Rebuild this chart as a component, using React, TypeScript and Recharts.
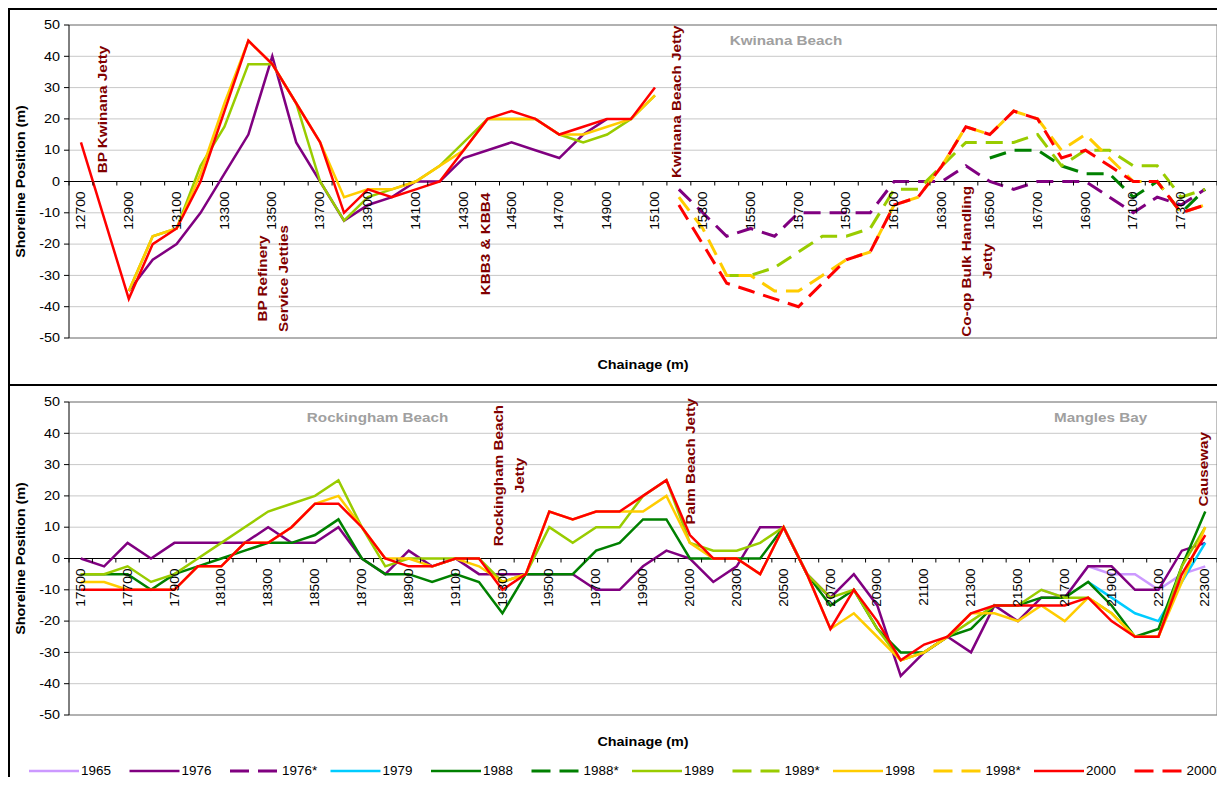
import React from "react";
import {
  LineChart,
  Line,
  XAxis,
  YAxis,
  CartesianGrid,
  ReferenceLine,
  ReferenceDot,
} from "recharts";

// ---- chainage (m) of each surveyed profile ----
const kwinanaChainage = [
  12700, 12800, 12900, 13000, 13100, 13200, 13300, 13400, 13500, 13600, 13700, 13800,
  13900, 14000, 14100, 14200, 14300, 14400, 14500, 14600, 14700, 14800, 14900, 15000,
  15100, 15200, 15300, 15400, 15500, 15600, 15700, 15800, 15900, 16000, 16100, 16200,
  16300, 16400, 16500, 16600, 16700, 16800, 16900, 17000, 17100, 17200, 17300, 17400,
];
const rockinghamChainage = [
  17500, 17600, 17700, 17800, 17900, 18000, 18100, 18200, 18300, 18400, 18500, 18600,
  18700, 18800, 18900, 19000, 19100, 19200, 19300, 19400, 19500, 19600, 19700, 19800,
  19900, 20000, 20100, 20200, 20300, 20400, 20500, 20600, 20700, 20800, 20900, 21000,
  21100, 21200, 21300, 21400, 21500, 21600, 21700, 21800, 21900, 22000, 22100, 22200,
  22300,
];

const kwinanaTickLabels = [
  12700, 12900, 13100, 13300, 13500, 13700, 13900, 14100, 14300, 14500, 14700, 14900,
  15100, 15300, 15500, 15700, 15900, 16100, 16300, 16500, 16700, 16900, 17100, 17300,
];
const rockinghamTickLabels = [
  17500, 17700, 17900, 18100, 18300, 18500, 18700, 18900, 19100, 19300, 19500, 19700,
  19900, 20100, 20300, 20500, 20700, 20900, 21100, 21300, 21500, 21700, 21900, 22100,
  22300,
];

const positionTicks = [-50, -40, -30, -20, -10, 0, 10, 20, 30, 40, 50];

// ---- shoreline position (m); each series starts at its first surveyed chainage ----
type Survey = { from: number; values: number[] };

const kwinana1976: Survey = {
  from: 12900,
  values: [-35, -25, -20, -10, 2.5, 15, 40, 12.5, 0, -12.5, -7.5, -5, 0, 0, 7.5, 10, 12.5, 10, 7.5, 15, 20],
};
const kwinana1989: Survey = {
  from: 12900,
  values: [-35, -17.5, -15, 5, 17.5, 37.5, 37.5, 25, 0, -12.5, -5, -2.5, 0, 5, 12.5, 20, 20, 20, 15, 12.5, 15, 20, 27.5],
};
const kwinana1998: Survey = {
  from: 12900,
  values: [-35, -17.5, -15, 2.5, 25, 45, 37.5, 25, 12.5, -5, -2.5, -2.5, 0, 5, 10, 20, 20, 20, 15, 15, 17.5, 20, 27.5],
};
const kwinana2000: Survey = {
  from: 12700,
  values: [12.5, -12.5, -37.5, -20, -15, 0, 22.5, 45, 37.5, 25, 12.5, -10, -2.5, -5, -2.5, 0, 10, 20, 22.5, 20, 15, 17.5, 20, 20, 30],
};
const kwinana1976b: Survey = {
  from: 15200,
  values: [-2.5, -10, -17.5, -15, -17.5, -10, -10, -10, -10, 0, 0, 0, 5, 0, -2.5, 0, 0, 0, -5, -10, -5, -7.5, -2.5],
};
const kwinana1988b: Survey = {
  from: 16500,
  values: [7.5, 10, 10, 5, 2.5, 2.5, -5, 0, -10, -2.5],
};
const kwinana1989b: Survey = {
  from: 15400,
  values: [-30, -30, -27.5, -22.5, -17.5, -17.5, -15, -2.5, -2.5, 5, 12.5, 12.5, 12.5, 15, 5, 10, 10, 5, 5, -5, -2.5],
};
const kwinana1998b: Survey = {
  from: 15200,
  values: [-5, -15, -30, -30, -35, -35, -30, -25, -22.5, -7.5, -5, 5, 17.5, 15, 22.5, 20, 10, 15, 7.5, 0, 0, -10, -7.5],
};
const kwinana2000b: Survey = {
  from: 15200,
  values: [-7.5, -20, -32.5, -35, -37.5, -40, -32.5, -25, -22.5, -7.5, -5, 5, 17.5, 15, 22.5, 20, 7.5, 10, 5, 0, 0, -10, -7.5],
};

const rockingham1965: Survey = {
  from: 21600,
  values: [-10, -12.5, -2.5, -5, -5, -10, -5, -2.5],
};
const rockingham1976: Survey = {
  from: 17500,
  values: [
    0, -2.5, 5, 0, 5, 5, 5, 5, 10, 5, 5, 10, 0, -5, 2.5, -2.5, 0, -5, -5, -5, -5, -5, -10, -10,
    -2.5, 2.5, 0, -7.5, -2.5, 10, 10, -5, -12.5, -5, -15, -37.5, -30, -25, -30, -15, -20, -12.5,
    -12.5, -2.5, -2.5, -10, -10, 2.5, 5,
  ],
};
const rockingham1979: Survey = {
  from: 21800,
  values: [-7.5, -12.5, -17.5, -20, -7.5, 5],
};
const rockingham1988: Survey = {
  from: 17500,
  values: [
    -5, -5, -5, -10, -5, -2.5, 0, 2.5, 5, 5, 7.5, 12.5, 0, -5, -5, -7.5, -5, -7.5, -17.5, -5, -5,
    -5, 2.5, 5, 12.5, 12.5, 0, 0, 0, 0, 10, -5, -15, -10, -22.5, -30, -30, -25, -22.5, -15, -15,
    -12.5, -12.5, -7.5, -15, -25, -22.5, -2.5, 15,
  ],
};
const rockingham1989: Survey = {
  from: 17500,
  values: [
    -5, -5, -2.5, -7.5, -5, 0, 5, 10, 15, 17.5, 20, 25, 10, -2.5, 0, 0, 0, 0, -7.5, -5, 10, 5,
    10, 10, 20, 25, 5, 2.5, 2.5, 5, 10, -5, -12.5, -10, -22.5, -32.5, -30, -25, -20, -15, -15,
    -10, -12.5, -12.5, -17.5, -25, -25, -2.5, 10,
  ],
};
const rockingham1998: Survey = {
  from: 17500,
  values: [
    -7.5, -7.5, -10, -10, -10, -2.5, -2.5, 5, 5, 10, 17.5, 20, 10, 0, 0, -2.5, 0, -2.5, -7.5, -5,
    15, 12.5, 15, 15, 15, 20, 5, 0, 0, -5, 10, -5, -22.5, -17.5, -25, -32.5, -30, -25, -17.5,
    -17.5, -20, -15, -20, -12.5, -17.5, -25, -25, -7.5, 10,
  ],
};
const rockingham2000: Survey = {
  from: 17500,
  values: [
    -10, -10, -10, -10, -10, -2.5, -2.5, 5, 5, 10, 17.5, 17.5, 10, 0, -2.5, -2.5, 0, 0, -10, -5,
    15, 12.5, 15, 15, 20, 25, 7.5, 0, 0, -5, 10, -5, -22.5, -10, -20, -32.5, -27.5, -25, -17.5,
    -15, -15, -15, -15, -12.5, -20, -25, -25, -5, 7.5,
  ],
};

// ---- series styling, in drawing / legend order ----
const SERIES = [
  { key: "y1965", name: "1965", color: "#CC99FF", dashed: false },
  { key: "y1976", name: "1976", color: "#800080", dashed: false },
  { key: "y1976b", name: "1976*", color: "#800080", dashed: true },
  { key: "y1979", name: "1979", color: "#00CCFF", dashed: false },
  { key: "y1988", name: "1988", color: "#008000", dashed: false },
  { key: "y1988b", name: "1988*", color: "#008000", dashed: true },
  { key: "y1989", name: "1989", color: "#99CC00", dashed: false },
  { key: "y1989b", name: "1989*", color: "#99CC00", dashed: true },
  { key: "y1998", name: "1998", color: "#FFCC00", dashed: false },
  { key: "y1998b", name: "1998*", color: "#FFCC00", dashed: true },
  { key: "y2000", name: "2000", color: "#FF0000", dashed: false },
  { key: "y2000b", name: "2000*", color: "#FF0000", dashed: true },
];

const kwinanaSurveys: Record<string, Survey> = {
  y1976: kwinana1976,
  y1976b: kwinana1976b,
  y1988b: kwinana1988b,
  y1989: kwinana1989,
  y1989b: kwinana1989b,
  y1998: kwinana1998,
  y1998b: kwinana1998b,
  y2000: kwinana2000,
  y2000b: kwinana2000b,
};
const rockinghamSurveys: Record<string, Survey> = {
  y1965: rockingham1965,
  y1976: rockingham1976,
  y1979: rockingham1979,
  y1988: rockingham1988,
  y1989: rockingham1989,
  y1998: rockingham1998,
  y2000: rockingham2000,
};

// structures along the coast, and beach names
type Note = { lines: string[]; at: number; level: number };
type Place = { text: string; at: number; level: number };

const kwinanaStructures: Note[] = [
  { lines: ["BP Kwinana Jetty"], at: 12790, level: 23 },
  { lines: ["BP Refinery", "Service Jetties"], at: 13505, level: -31 },
  { lines: ["KBB3 & KBB4"], at: 14393, level: -20 },
  { lines: ["Kwinana Beach Jetty"], at: 15192, level: 25.5 },
  { lines: ["Co-op Bulk Handling", "Jetty"], at: 16449, level: -25.5 },
];
const kwinanaPlaces: Place[] = [{ text: "Kwinana Beach", at: 15648, level: 45 }];

const rockinghamStructures: Note[] = [
  { lines: ["Rockingham Beach", "Jetty"], at: 19328, level: 26.5 },
  { lines: ["Palm Beach Jetty"], at: 20105, level: 31 },
  { lines: ["Causeway"], at: 22292, level: 28.5 },
];
const rockinghamPlaces: Place[] = [
  { text: "Rockingham Beach", at: 18767, level: 45 },
  { text: "Mangles Bay", at: 21853, level: 45 },
];

// ---- layout ----
const FONT = '"Liberation Sans", Arial, Helvetica, sans-serif';
const STRUCTURE_RED = "#800000";
const PLACE_GREY = "#A0A0A0";

const CHART_W = 1217;
const CHART_H = 377;
const MARGIN = { top: 17, right: 8, bottom: 17, left: 21 };
const Y_AXIS_W = 40;
const X_AXIS_H = 30;
const PLOT_H = CHART_H - MARGIN.top - MARGIN.bottom - X_AXIS_H;
const PLOT_LEFT = MARGIN.left + Y_AXIS_W;
const PLOT_W = CHART_W - PLOT_LEFT - MARGIN.right;
const ZERO_Y = MARGIN.top + PLOT_H / 2;

// category labels sit under the zero line; the other ticks mark profile boundaries
function ChainageTick(props: any) {
  const { x, payload, labels } = props;
  const v = payload.value;
  if (labels.includes(v)) {
    return (
      <text
        transform={`translate(${x},${ZERO_Y + 10}) rotate(-90) scale(1.15,1)`}
        textAnchor="end"
        dy="0.35em"
        fontSize={12}
        fontFamily={FONT}
        fill="#000"
      >
        {v}
      </text>
    );
  }
  return <line x1={x} x2={x} y1={ZERO_Y} y2={ZERO_Y + 4} stroke="#000" strokeWidth={1} />;
}

function PositionTick(props: any) {
  const { x, y, payload } = props;
  return (
    <text
      transform={`translate(${x},${y}) scale(1.2,1)`}
      textAnchor="end"
      dy="0.35em"
      fontSize={12}
      fontFamily={FONT}
      fill="#000"
    >
      {payload.value}
    </text>
  );
}

function StructureLabel({ cx, cy, lines }: { cx: number; cy: number; lines: string[] }) {
  return (
    <g>
      {lines.map((t, i) => (
        <text
          key={t}
          transform={`translate(${cx + (i - (lines.length - 1) / 2) * 21},${cy}) rotate(-90) scale(1.22,1)`}
          textAnchor="middle"
          dy="0.35em"
          fontSize={12.5}
          fontWeight="bold"
          fontFamily={FONT}
          fill={STRUCTURE_RED}
        >
          {t}
        </text>
      ))}
    </g>
  );
}

function PlaceLabel({ cx, cy, text }: { cx: number; cy: number; text: string }) {
  return (
    <text
      transform={`translate(${cx},${cy}) scale(1.22,1)`}
      textAnchor="middle"
      dy="0.35em"
      fontSize={12.5}
      fontWeight="bold"
      fontFamily={FONT}
      fill={PLACE_GREY}
    >
      {text}
    </text>
  );
}

function AxisTitle({ x, y, text, vertical }: { x: number; y: number; text: string; vertical?: boolean }) {
  return (
    <text
      transform={`translate(${x},${y})${vertical ? " rotate(-90)" : ""} scale(1.2,1)`}
      textAnchor="middle"
      dy="0.35em"
      fontSize={12}
      fontWeight="bold"
      fontFamily={FONT}
      fill="#000"
    >
      {text}
    </text>
  );
}

function ShorelinePanel({
  chainage,
  tickLabels,
  surveys,
  structures,
  places,
}: {
  chainage: number[];
  tickLabels: number[];
  surveys: Record<string, Survey>;
  structures: Note[];
  places: Place[];
}) {
  const series = SERIES.filter((s) => surveys[s.key]);
  const data = chainage.map((c, i) => {
    const row: Record<string, number | null> = { chainage: c };
    for (const s of series) {
      const { from, values } = surveys[s.key];
      const j = i - chainage.indexOf(from);
      row[s.key] = j >= 0 && j < values.length ? values[j] : null;
    }
    return row;
  });

  const lo = chainage[0] - 50;
  const hi = chainage[chainage.length - 1] + 50;
  const ticks = [...chainage.map((c) => c - 50), hi, ...tickLabels].sort((a, b) => a - b);

  return (
    <LineChart width={CHART_W} height={CHART_H} data={data} margin={MARGIN}>
      <CartesianGrid vertical={false} stroke="#C8C8C8" />
      <XAxis
        type="number"
        dataKey="chainage"
        domain={[lo, hi]}
        ticks={ticks}
        interval={0}
        height={X_AXIS_H}
        tickLine={false}
        axisLine={false}
        allowDataOverflow
        tick={(p: any) => <ChainageTick {...p} labels={tickLabels} />}
        label={() => (
          <AxisTitle x={PLOT_LEFT + PLOT_W / 2} y={MARGIN.top + PLOT_H + 27} text="Chainage (m)" />
        )}
      />
      <YAxis
        type="number"
        domain={[-50, 50]}
        ticks={positionTicks}
        interval={0}
        width={Y_AXIS_W}
        tickSize={5}
        tickMargin={4}
        stroke="#000"
        allowDataOverflow
        tick={<PositionTick />}
        label={() => (
          <AxisTitle x={12.5} y={MARGIN.top + PLOT_H / 2} text="Shoreline Position (m)" vertical />
        )}
      />
      <ReferenceLine y={50} stroke="#808080" ifOverflow="visible" />
      <ReferenceLine y={-50} stroke="#808080" ifOverflow="visible" />
      <ReferenceLine x={hi} stroke="#808080" ifOverflow="visible" />
      <ReferenceLine y={0} stroke="#000" ifOverflow="visible" />
      {places.map((p) => (
        <ReferenceDot
          key={p.text}
          x={p.at}
          y={p.level}
          r={0}
          ifOverflow="visible"
          shape={(d: any) => <PlaceLabel cx={d.cx} cy={d.cy} text={p.text} />}
        />
      ))}
      {structures.map((n) => (
        <ReferenceDot
          key={n.lines[0]}
          x={n.at}
          y={n.level}
          r={0}
          ifOverflow="visible"
          shape={(d: any) => <StructureLabel cx={d.cx} cy={d.cy} lines={n.lines} />}
        />
      ))}
      {series.map((s) => (
        <Line
          key={s.key}
          type="linear"
          dataKey={s.key}
          name={s.name}
          stroke={s.color}
          strokeWidth={s.dashed ? 3 : 2.5}
          strokeDasharray={s.dashed ? "17 9" : undefined}
          dot={false}
          activeDot={false}
          connectNulls={false}
          isAnimationActive={false}
        />
      ))}
    </LineChart>
  );
}

function YearLegend() {
  return (
    <svg width={CHART_W} height={20} style={{ overflow: "visible", display: "block" }}>
      {SERIES.map((s, i) => {
        const x0 = 21 + i * 100.5;
        return (
          <g key={s.key}>
            <line
              x1={x0}
              x2={x0 + 50}
              y1={10}
              y2={10}
              stroke={s.color}
              strokeWidth={s.dashed ? 3 : 2.5}
              strokeDasharray={s.dashed ? "19 9" : undefined}
            />
            <text
              transform={`translate(${x0 + 52},10) scale(1.12,1)`}
              dy="0.35em"
              fontSize={12}
              fontFamily={FONT}
              fill="#000"
            >
              {s.name}
            </text>
          </g>
        );
      })}
    </svg>
  );
}

export default function App() {
  return (
    <div style={{ position: "relative", width: CHART_W, height: 769, background: "#fff" }}>
      <div style={{ position: "absolute", left: 0, top: 0, width: 2, height: 776, background: "#000" }} />
      <div style={{ position: "absolute", left: 0, top: 0, width: CHART_W, height: 2, background: "#000" }} />
      <div style={{ position: "absolute", left: 0, top: 376, width: CHART_W, height: 2, background: "#000" }} />
      <div style={{ position: "absolute", left: 0, top: 0 }}>
        <ShorelinePanel
          chainage={kwinanaChainage}
          tickLabels={kwinanaTickLabels}
          surveys={kwinanaSurveys}
          structures={kwinanaStructures}
          places={kwinanaPlaces}
        />
      </div>
      <div style={{ position: "absolute", left: 0, top: CHART_H }}>
        <ShorelinePanel
          chainage={rockinghamChainage}
          tickLabels={rockinghamTickLabels}
          surveys={rockinghamSurveys}
          structures={rockinghamStructures}
          places={rockinghamPlaces}
        />
      </div>
      <div style={{ position: "absolute", left: 0, top: 753, width: CHART_W }}>
        <YearLegend />
      </div>
    </div>
  );
}
